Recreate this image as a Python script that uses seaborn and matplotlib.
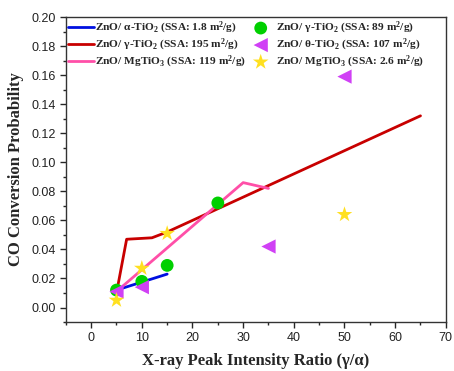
import numpy as np
import pandas as pd
import matplotlib
matplotlib.use("Agg")
import matplotlib.pyplot as plt
import seaborn as sns
from matplotlib.ticker import MultipleLocator

# ---- data ----
alpha_x = [5, 15]
alpha_y = [0.012, 0.023]

gamma195_x = [5, 7, 12, 15, 65]
gamma195_y = [0.010, 0.047, 0.048, 0.052, 0.132]

mgtio3_119_x = [5, 30, 35]
mgtio3_119_y = [0.011, 0.086, 0.082]

gamma89_x = [5, 10, 15, 25]
gamma89_y = [0.012, 0.018, 0.029, 0.072]

theta107_x = [5, 10, 35, 50]
theta107_y = [0.011, 0.014, 0.042, 0.159]

mgtio3_26_x = [5, 10, 15, 50]
mgtio3_26_y = [0.005, 0.027, 0.051, 0.064]

labels = [
    r"ZnO/ $\mathbf{\alpha}$-TiO$_\mathbf{2}$ (SSA: 1.8 m$^\mathbf{2}$/g)",
    r"ZnO/ $\mathbf{\gamma}$-TiO$_\mathbf{2}$ (SSA: 195 m$^\mathbf{2}$/g)",
    r"ZnO/ MgTiO$_\mathbf{3}$ (SSA: 119 m$^\mathbf{2}$/g)",
    r"ZnO/ $\mathbf{\gamma}$-TiO$_\mathbf{2}$ (SSA: 89 m$^\mathbf{2}$/g)",
    r"ZnO/ $\mathbf{\theta}$-TiO$_\mathbf{2}$ (SSA: 107 m$^\mathbf{2}$/g)",
    r"ZnO/ MgTiO$_\mathbf{3}$ (SSA: 2.6 m$^\mathbf{2}$/g)",
]

sns.set_style("white")
plt.rcParams["mathtext.fontset"] = "custom"
plt.rcParams["mathtext.rm"] = "Liberation Serif:bold"
plt.rcParams["mathtext.bf"] = "Liberation Serif:bold"
plt.rcParams["mathtext.it"] = "Liberation Serif:bold"

fig = plt.figure(figsize=(4.54, 3.71), dpi=100)
ax = fig.add_axes([0.145, 0.132, 0.837, 0.822])

line_specs = [
    (alpha_x, alpha_y, "#0010E0", labels[0]),
    (gamma195_x, gamma195_y, "#C80000", labels[1]),
    (mgtio3_119_x, mgtio3_119_y, "#FF4FA8", labels[2]),
]
for xs, ys, c, lab in line_specs:
    df = pd.DataFrame({"x": xs, "y": ys})
    sns.lineplot(data=df, x="x", y="y", sort=False, color=c, linewidth=2.0,
                 ax=ax, label=lab, estimator=None)

scatter_specs = [
    (gamma89_x, gamma89_y, "#00D000", "o", 85, labels[3]),
    (theta107_x, theta107_y, "#D040F5", "<", 105, labels[4]),
    (mgtio3_26_x, mgtio3_26_y, "#FFE020", "*", 140, labels[5]),
]
for xs, ys, c, m, s, lab in scatter_specs:
    df = pd.DataFrame({"x": xs, "y": ys})
    sns.scatterplot(data=df, x="x", y="y", color=c, marker=m, s=s,
                    edgecolor="none", ax=ax, label=lab, zorder=3)

ax.set_xlim(-5, 70)
ax.set_ylim(-0.01, 0.20)
ax.xaxis.set_major_locator(MultipleLocator(10))
ax.xaxis.set_minor_locator(MultipleLocator(5))
ax.set_yticks(np.arange(0, 0.201, 0.02))
ax.yaxis.set_minor_locator(MultipleLocator(0.01))
ax.set_yticklabels([f"{v:.2f}" for v in np.arange(0, 0.201, 0.02)])
ax.tick_params(axis="both", which="major", direction="out", length=4, width=1,
               labelsize=9, bottom=True, left=True, top=False, right=False)
ax.tick_params(axis="both", which="minor", direction="out", length=2.5, width=1,
               bottom=True, left=True, top=False, right=False)
for lab in ax.get_xticklabels() + ax.get_yticklabels():
    lab.set_fontfamily("Liberation Sans")
    lab.set_color("#222222")

for sp in ax.spines.values():
    sp.set_color("#333333")
    sp.set_linewidth(1.0)

ax.set_xlabel("X-ray Peak Intensity Ratio (γ/α)", fontfamily="Liberation Serif",
              fontweight="bold", fontsize=12, labelpad=6)
ax.set_ylabel("CO Conversion Probability", fontfamily="Liberation Serif",
              fontweight="bold", fontsize=12, labelpad=5)

handles, labs = ax.get_legend_handles_labels()
leg = ax.legend(handles, labs, ncol=2, loc="upper left", frameon=False,
                prop={"family": "Liberation Serif", "weight": "bold", "size": 8.2},
                handlelength=2.3, handletextpad=0.15, columnspacing=0.1,
                labelspacing=0.08, borderaxespad=0.0, borderpad=0.15,
                bbox_to_anchor=(0.0, 0.995))

fig.savefig("out.png", dpi=100)
